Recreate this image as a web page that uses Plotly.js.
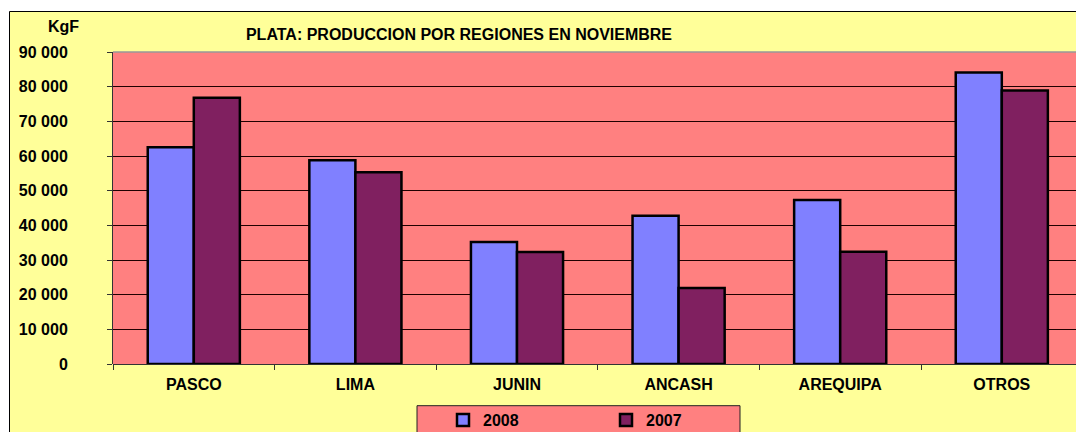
<!DOCTYPE html>
<html>
<head>
<meta charset="utf-8">
<script src="https://cdn.plot.ly/plotly-3.0.1.min.js"></script>
<style>html,body{margin:0;padding:0;background:#fff;}#chart{width:1076px;height:432px;}</style>
</head>
<body>
<div id="chart"></div>
<script>
const categories = ["PASCO", "LIMA", "JUNIN", "ANCASH", "AREQUIPA", "OTROS"];
const values2008 = [62500, 58800, 35200, 42800, 47300, 84100];
const values2007 = [76800, 55300, 32300, 21900, 32400, 78900];
const seriesNames = ["2008", "2007"];
const yTickValues = [0, 10000, 20000, 30000, 40000, 50000, 60000, 70000, 80000, 90000];
const chartTitle = "PLATA: PRODUCCION POR REGIONES EN NOVIEMBRE";
const unitLabel = "KgF";

const W = 1076, H = 432;
const L = 113, R = 0, T = 52, B = 68;
const pw = W - L - R, ph = H - T - B;
const px = x => (x - L) / pw;
const py = y => (H - B - y) / ph;

const FONT = {family: "Liberation Sans, Arial, sans-serif", size: 16, color: "#000", weight: 700};

const traces = [
  {type: "bar", name: seriesNames[0], x: categories, y: values2008,
   marker: {color: "#8080FF", line: {color: "#000", width: 2.5}}},
  {type: "bar", name: seriesNames[1], x: categories, y: values2007,
   marker: {color: "#802060", line: {color: "#000", width: 2.5}}}
];

const layout = {
  width: W, height: H,
  margin: {l: L, r: R, t: T, b: B, pad: 0, autoexpand: false},
  paper_bgcolor: "#FFFFFF",
  plot_bgcolor: "rgba(0,0,0,0)",
  separators: ". ",
  font: FONT,
  barmode: "group",
  bargap: 0.43,
  bargroupgap: 0,
  showlegend: true,
  title: {text: chartTitle, font: FONT, x: px(459), xref: "paper", xanchor: "center",
          y: 1 - 34.3 / H, yref: "container", yanchor: "middle"},
  xaxis: {
    type: "category", range: [-0.5, -0.5 + pw / 161.6],
    showgrid: false, zeroline: false, showline: false,
    ticks: "outside", tickson: "boundaries", ticklen: 5, tickcolor: "#333", tickwidth: 1,
    tickfont: FONT, ticklabelstandoff: 9, fixedrange: true, automargin: false
  },
  yaxis: {
    range: [0, 90000], tickvals: yTickValues, tickformat: ",d",
    showgrid: true, gridcolor: "#200000", gridwidth: 1,
    zeroline: true, zerolinecolor: "#333", zerolinewidth: 1,
    showline: true, linecolor: "#333", linewidth: 1,
    ticks: "outside", ticklen: 5, tickcolor: "#333", tickwidth: 1,
    tickfont: FONT, ticklabelstandoff: 36, fixedrange: true, automargin: false
  },
  legend: {
    orientation: "h", x: px(443), xanchor: "left", y: py(420), yanchor: "middle",
    bgcolor: "rgba(0,0,0,0)", borderwidth: 0, font: FONT,
    entrywidth: 118, entrywidthmode: "pixels", traceorder: "normal"
  },
  annotations: [
    {text: unitLabel, xref: "paper", yref: "paper", x: px(63.5), y: py(26.7),
     xanchor: "center", yanchor: "middle", showarrow: false, font: FONT}
  ],
  shapes: [
    {type: "rect", xref: "paper", yref: "paper", layer: "below",
     x0: px(9.5), x1: px(1090), y0: py(11.5), y1: py(450),
     fillcolor: "#FFFF99", line: {color: "#000", width: 1}},
    {type: "rect", xref: "paper", yref: "paper", layer: "below",
     x0: 0, x1: 1, y0: 0, y1: 1,
     fillcolor: "#FF8080", line: {width: 0}},
    {type: "line", xref: "paper", yref: "paper", layer: "above",
     x0: 0, x1: 1, y0: 1, y1: 1, line: {color: "#999", width: 1.5}},
    {type: "rect", xref: "paper", yref: "paper", layer: "below",
     x0: px(417), x1: px(740), y0: py(405.7), y1: py(450),
     fillcolor: "#FF8080", line: {color: "#222", width: 1}}
  ]
};

Plotly.newPlot("chart", traces, layout, {displayModeBar: false, staticPlot: true});
</script>
</body>
</html>
